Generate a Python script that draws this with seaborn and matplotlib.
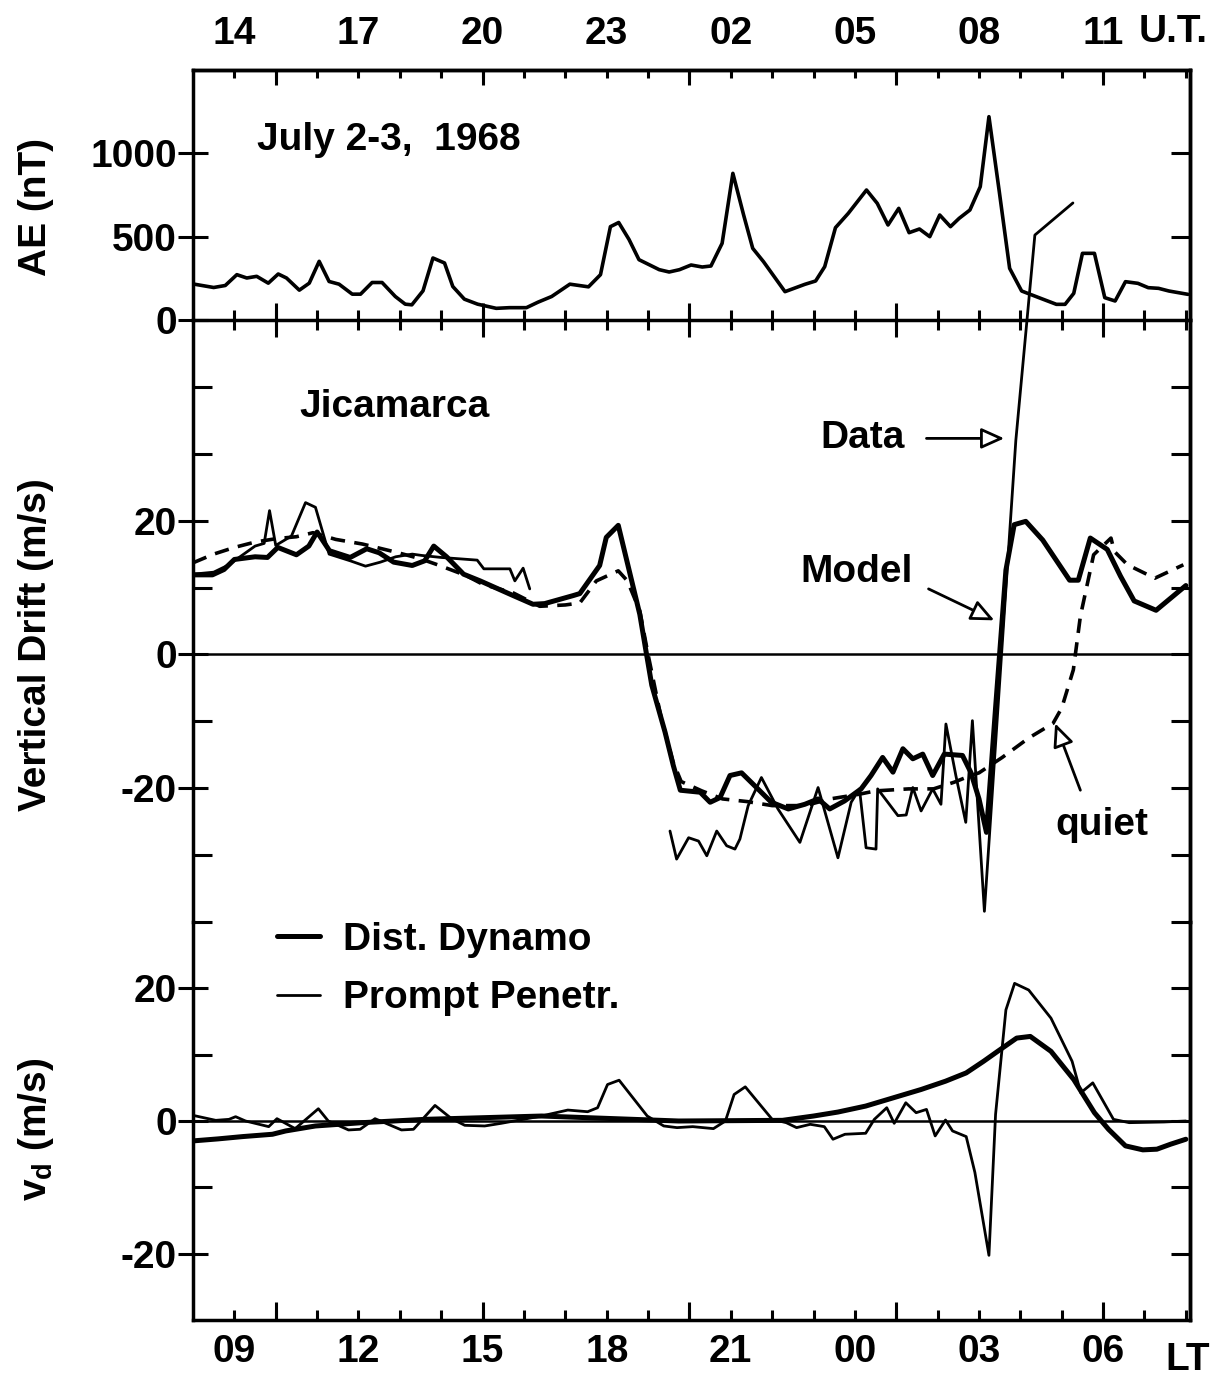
import matplotlib
matplotlib.use("Agg")
import matplotlib.pyplot as plt
import numpy as np
import pandas as pd
import seaborn as sns
from matplotlib.ticker import FixedLocator, FixedFormatter

# ---------------- data (LT in hours, 24 = 00 LT next day) ----------------
ae_lt = [8.03, 8.50, 8.78, 9.06, 9.30, 9.54, 9.82, 10.06, 10.26, 10.57, 10.81, 11.05, 11.29, 11.53,
         11.85, 12.05, 12.33, 12.57, 12.89, 13.13, 13.29, 13.56, 13.80, 14.08, 14.28, 14.56, 14.88,
         15.33, 15.65, 16.06, 16.34, 16.67, 17.11, 17.56, 17.85, 18.09, 18.29, 18.54, 18.78, 19.27,
         19.51, 19.76, 20.04, 20.31, 20.52, 20.79, 21.05, 21.31, 21.53, 21.79, 22.31, 22.79, 23.05,
         23.27, 23.53, 23.84, 24.28, 24.54, 24.80, 25.06, 25.31, 25.56, 25.81, 26.05, 26.31, 26.52,
         26.78, 27.03, 27.24, 27.49, 27.74, 28.03, 28.49, 28.87, 29.08, 29.29, 29.50, 29.79, 30.04,
         30.29, 30.54, 30.84, 31.09, 31.34, 31.59, 32.05]
ae_nt = [215, 195, 207, 272, 252, 262, 221, 276, 252, 179, 221, 352, 231, 215,
         155, 155, 225, 225, 141, 95, 91, 175, 372, 342, 201, 125, 95,
         70, 74, 74, 107, 141, 215, 199, 272, 560, 585, 483, 362, 302,
         288, 302, 330, 318, 324, 460, 880, 630, 430, 350, 170, 214, 234,
         320, 554, 640, 780, 700, 570, 670, 524, 546, 500, 630, 560, 610,
         660, 800, 1220, 770, 310, 174, 130, 94, 94, 160, 400, 400, 134,
         114, 230, 220, 194, 190, 174, 154]

model_lt = [8.0, 8.47, 8.75, 9.0, 9.5, 9.8, 10.05, 10.5, 10.8, 11.0, 11.3, 11.8, 12.2, 12.5, 12.85,
            13.3, 13.6, 13.82, 14.13, 14.54, 14.94, 15.74, 16.22, 16.5, 17.19, 17.35, 17.83, 17.99,
            18.28, 18.8, 18.95, 19.09, 19.41, 19.61, 19.78, 20.26, 20.5, 20.74, 20.98, 21.26, 21.54,
            21.98, 22.39, 22.79, 23.11, 23.39, 23.75, 24.15, 24.39, 24.67, 24.92, 25.16, 25.4, 25.64,
            25.88, 26.16, 26.6, 26.8, 27.0, 27.18, 27.4, 27.65, 27.85, 28.13, 28.54, 29.19, 29.4,
            29.69, 30.1, 30.42, 30.75, 31.28, 32.0]
model_ms = [11.9, 11.9, 12.7, 14.2, 14.6, 14.5, 16.0, 14.9, 16.2, 18.3, 15.5, 14.5, 15.8, 15.2, 13.8,
            13.3, 14.0, 16.2, 14.6, 12.0, 11.0, 8.8, 7.5, 7.6, 8.8, 9.1, 13.3, 17.5,
            19.3, 6.0, 0.5, -4.6, -11.6, -16.6, -20.3, -20.6, -22.1, -21.4, -18.1, -17.7, -19.4,
            -22.1, -23.1, -22.4, -21.6, -23.1, -21.9, -20.1, -18.1, -15.4, -17.6, -14.1, -15.6, -14.9,
            -18.1, -14.9, -15.1, -17.6, -21.6, -26.6, -8.0, 12.6, 19.4, 19.9, 17.1, 11.1, 11.1,
            17.4, 15.7, 11.7, 8.0, 6.6, 10.3]

data1_lt = [8.0, 8.5, 8.8, 9.0, 9.5, 9.72, 9.85, 10.0, 10.38, 10.72, 10.96, 11.29, 11.8, 12.17,
            12.53, 12.9, 13.3, 13.53, 14.0, 14.87, 15.03, 15.66, 15.78, 15.98, 16.14]
data1_ms = [12.0, 12.3, 13.2, 14.0, 16.2, 16.6, 21.5, 16.3, 17.7, 22.7, 22.0, 15.0, 14.0, 13.2,
            13.8, 14.6, 15.0, 14.8, 14.5, 14.1, 12.8, 12.8, 11.0, 12.9, 9.8]

data2_lt = [19.53, 19.69, 19.98, 20.22, 20.42, 20.66, 20.9, 21.1, 21.22, 21.42, 21.74, 22.14, 22.67,
            23.11, 23.59, 23.91, 24.11, 24.27, 24.51, 24.55, 25.04, 25.24, 25.4, 25.6, 25.88, 26.08,
            26.2, 26.44, 26.68, 26.84, 27.13, 27.89, 28.35, 29.27]
data2_ms = [-26.4, -30.6, -27.4, -27.9, -30.1, -26.4, -28.6, -29.1, -27.6, -22.6, -18.4, -23.1, -28.1,
            -19.9, -30.4, -22.1, -20.1, -28.9, -29.1, -20.1, -24.1, -24.0, -19.9, -23.4, -20.1, -22.4,
            -10.4, -18.1, -25.1, -9.9, -38.4, 32.0, 62.7, 67.5]

quiet_lt = [8.0, 8.5, 9.0, 9.5, 10.0, 10.5, 10.9, 11.45, 12.1, 12.9, 13.5, 13.96, 14.6, 15.0, 15.74,
            16.38, 17.0, 17.35, 17.75, 18.28, 18.5, 18.8, 19.0, 19.3, 19.6, 19.8, 20.3, 20.8, 21.4,
            22.0, 22.8, 23.4, 24.1, 24.5, 25.3, 25.9, 26.4, 26.8, 27.0, 27.56, 28.2, 28.79, 29.0,
            29.28, 29.45, 29.77, 30.19, 30.27, 30.59, 31.25, 31.94]
quiet_ms = [13.7, 15.0, 16.0, 16.8, 17.3, 17.6, 18.2, 17.2, 16.5, 15.3, 14.3, 13.3, 11.8, 10.5, 9.2,
            7.2, 7.4, 7.7, 11.0, 12.5, 11.0, 6.5, 0.0, -9.0, -16.0, -19.0, -20.4, -21.6, -22.0,
            -22.6, -22.6, -21.6, -20.9, -20.4, -20.1, -20.1, -19.1, -18.1, -17.7, -15.4, -12.5, -10.3, -8.0,
            -2.3, 5.7, 14.9, 17.4, 15.4, 13.4, 11.4, 13.4]

dd_lt = [8.0, 8.6, 9.2, 9.92, 10.24, 10.96, 12.09, 13.61, 16.43, 19.74, 22.25, 23.0, 23.59, 24.26,
         24.93, 25.6, 26.19, 26.69, 27.11, 27.45, 27.91, 28.24, 28.74, 29.29, 29.79, 30.13, 30.54,
         30.96, 31.3, 31.63, 32.0]
dd_ms = [-3.0, -2.7, -2.35, -2.0, -1.5, -0.75, -0.25, 0.25, 0.75, 0.0, 0.1, 0.75, 1.35, 2.25,
         3.5, 4.75, 6.0, 7.25, 9.0, 10.5, 12.5, 12.75, 10.5, 6.25, 1.25, -1.25, -3.75,
         -4.35, -4.25, -3.5, -2.75]

pp_lt = [8.0, 8.55, 8.87, 9.03, 9.27, 9.83, 10.03, 10.47, 11.03, 11.27, 11.76, 12.04, 12.4, 12.72,
         13.04, 13.33, 13.85, 14.25, 14.57, 15.05, 15.45, 16.42, 17.06, 17.54, 17.78, 18.02, 18.3,
         18.98, 19.38, 19.7, 20.08, 20.58, 20.87, 21.08, 21.35, 22.0, 22.34, 22.59, 22.92, 23.26,
         23.47, 23.76, 24.26, 24.47, 24.77, 24.95, 25.23, 25.48, 25.73, 25.94, 26.19, 26.36, 26.69,
         26.9, 27.24, 27.4, 27.65, 27.86, 28.2, 28.74, 29.25, 29.46, 29.75, 30.25, 30.63, 31.47, 32.0]
pp_ms = [0.85, 0.1, 0.25, 0.65, 0.0, -0.85, 0.35, -1.15, 1.85, 0.0, -1.35, -1.25, 0.35, -0.5,
         -1.35, -1.25, 2.35, 0.35, -0.65, -0.75, -0.35, 0.75, 1.65, 1.4, 2.0, 5.5, 6.15,
         0.75, -0.75, -1.0, -0.85, -1.15, 0.0, 4.0, 5.15, 0.25, -0.25, -1.0, -0.5, -0.85,
         -2.75, -2.0, -1.85, 0.25, 2.0, -0.35, 2.75, 1.25, 1.75, -2.25, 0.15, -1.5, -2.35,
         -7.75, -20.25, 1.0, 16.75, 20.75, 19.75, 15.5, 9.0, 4.25, 5.75, 0.25, -0.25, -0.15, 0.0]

label_hours = [9, 12, 15, 18, 21, 24, 27, 30]
ut_labels = ["14", "17", "20", "23", "02", "05", "08", "11"]
lt_labels = ["09", "12", "15", "18", "21", "00", "03", "06"]
ae_ticks, ae_ticklabels = [0, 500, 1000], ["0", "500", "1000"]
dr_ticks, dr_ticklabels = [-20, 0, 20], ["-20", "0", "20"]
dr_minor = [-40, -30, -10, 10, 30, 40]
vd_ticks, vd_ticklabels = [-20, 0, 20], ["-20", "0", "20"]
vd_minor = [-10, 10]

# ---------------- style ----------------
sns.set_theme(style="ticks")
plt.rcParams["font.family"] = ["Liberation Sans", "DejaVu Sans"]
plt.rcParams["font.weight"] = "bold"
plt.rcParams["axes.labelweight"] = "bold"
plt.rcParams["axes.unicode_minus"] = False
plt.rcParams["mathtext.fontset"] = "custom"
plt.rcParams["mathtext.rm"] = "Liberation Sans:bold"
plt.rcParams["mathtext.it"] = "Liberation Sans:bold"
plt.rcParams["mathtext.bf"] = "Liberation Sans:bold"
for k in ["text.color", "axes.labelcolor", "xtick.color", "ytick.color", "axes.edgecolor"]:
    plt.rcParams[k] = "black"
plt.rcParams["axes.linewidth"] = 2.5

FS = 28
TW = 2.2
XMIN, XMAX = 8.0, 32.1
hours = list(range(9, 33))
long_hours = [10, 15, 20, 25, 30]

fig = plt.figure(figsize=(12.29, 13.83), dpi=100, facecolor="white")
gs = fig.add_gridspec(3, 1, height_ratios=[250, 602, 398], hspace=0,
                      left=193 / 1229, right=1190 / 1229,
                      top=1 - 70 / 1383, bottom=1 - 1320 / 1383)
ax_ae = fig.add_subplot(gs[0])
ax_dr = fig.add_subplot(gs[1])
ax_vd = fig.add_subplot(gs[2])
for a in (ax_dr, ax_vd):
    a.patch.set_visible(False)

# ---------------- lines ----------------
sns.lineplot(x=ae_lt, y=ae_nt, ax=ax_ae, color="black", lw=2.6, estimator=None, sort=False)

ax_dr.axhline(0, color="black", lw=1.8, zorder=1)
sns.lineplot(x=quiet_lt, y=quiet_ms, ax=ax_dr, color="black", lw=2.6, linestyle=(0, (4, 2.6)),
             estimator=None, sort=False)
sns.lineplot(x=model_lt, y=model_ms, ax=ax_dr, color="black", lw=3.6, estimator=None, sort=False)
sns.lineplot(x=data1_lt, y=data1_ms, ax=ax_dr, color="black", lw=2.0, estimator=None, sort=False)
sns.lineplot(x=data2_lt, y=data2_ms, ax=ax_dr, color="black", lw=2.0, estimator=None, sort=False,
             clip_on=False)

ax_vd.axhline(0, color="black", lw=1.8, zorder=1)
sns.lineplot(x=dd_lt, y=dd_ms, ax=ax_vd, color="black", lw=3.6, estimator=None, sort=False,
             label="Dist. Dynamo")
sns.lineplot(x=pp_lt, y=pp_ms, ax=ax_vd, color="black", lw=2.0, estimator=None, sort=False,
             label="Prompt Penetr.")

# ---------------- limits ----------------
for a in (ax_ae, ax_dr, ax_vd):
    a.set_xlim(XMIN, XMAX)
    a.set_xlabel("")
ax_ae.set_ylim(0, 1500)
ax_dr.set_ylim(-40, 50)
ax_vd.set_ylim(-30, 30)

ax_dr.spines["top"].set_visible(False)
ax_dr.spines["bottom"].set_visible(False)
ax_vd.spines["top"].set_visible(False)


def hour_labels(lbls):
    d = dict(zip(label_hours, lbls))
    return [d.get(h, "") for h in hours]


def setup_x(axis):
    axis.set_major_locator(FixedLocator(hours))
    axis.set_minor_locator(FixedLocator(long_hours))
    axis.remove_overlapping_locs = False


# top UT axis
sec_top = ax_ae.secondary_xaxis("top")
setup_x(sec_top.xaxis)
sec_top.xaxis.set_major_formatter(FixedFormatter(hour_labels(ut_labels)))
sec_top.tick_params(axis="x", which="major", direction="in", length=6, width=TW,
                    labelsize=FS, pad=13)
sec_top.tick_params(axis="x", which="minor", direction="in", length=11, width=TW)

# AE bottom (in-out ticks, no labels)
setup_x(ax_ae.xaxis)
ax_ae.tick_params(axis="x", which="both", bottom=True, top=False, labelbottom=False,
                  direction="inout", width=TW)
ax_ae.tick_params(axis="x", which="major", length=14)
ax_ae.tick_params(axis="x", which="minor", length=24)

ax_dr.tick_params(axis="x", which="both", bottom=False, top=False, labelbottom=False)

# bottom LT axis
setup_x(ax_vd.xaxis)
ax_vd.xaxis.set_major_formatter(FixedFormatter(hour_labels(lt_labels)))
ax_vd.tick_params(axis="x", which="both", bottom=True, top=False, direction="in", width=TW)
ax_vd.tick_params(axis="x", which="major", length=7, labelsize=FS, pad=10)
ax_vd.tick_params(axis="x", which="minor", length=13)


def setup_y(a, major, labels, minor, right):
    a.yaxis.set_major_locator(FixedLocator(major))
    a.yaxis.set_major_formatter(FixedFormatter(labels))
    a.yaxis.set_minor_locator(FixedLocator(minor))
    a.tick_params(axis="y", which="major", left=True, right=False, direction="inout",
                  length=22, width=TW, labelsize=FS, pad=0.5)
    a.tick_params(axis="y", which="minor", left=True, right=False, direction="in",
                  length=14, width=TW)
    s = a.secondary_yaxis("right")
    s.yaxis.set_major_locator(FixedLocator(right))
    s.tick_params(axis="y", which="major", direction="in", length=14, width=TW,
                  labelright=False)
    return s


setup_y(ax_ae, ae_ticks, ae_ticklabels, [], [500, 1000])
setup_y(ax_dr, dr_ticks, dr_ticklabels, dr_minor, [-40, -30, -20, -10, 0, 10, 20, 30, 40])
setup_y(ax_vd, vd_ticks, vd_ticklabels, vd_minor, [-20, -10, 0, 10, 20])

# y labels
lab_x = (36 - 193) / 997
for a, txt, yy in [(ax_ae, "AE (nT)", 0.45), (ax_dr, "Vertical Drift (m/s)", 0.46),
                   (ax_vd, r"v$_{\mathrm{d}}$ (m/s)", 0.48)]:
    a.set_ylabel(txt, fontsize=FS, va="center", fontweight="bold")
    a.yaxis.set_label_coords(lab_x, yy)

# axis unit texts
ax_ae.annotate("U.T.", xy=(30.85, 1.112), xycoords=("data", "axes fraction"),
               ha="left", va="baseline", fontsize=FS, annotation_clip=False)
ax_vd.annotate("LT", xy=(31.5, -0.126), xycoords=("data", "axes fraction"),
               ha="left", va="baseline", fontsize=FS, annotation_clip=False)

# panel texts
ax_ae.text(9.55, 1080, "July 2-3,  1968", ha="left", va="center", fontsize=FS)
ax_dr.text(10.57, 37.0, "Jicamarca", ha="left", va="center", fontsize=FS)

arrow = dict(arrowstyle="-|>,head_length=1.0,head_width=0.45", lw=2.0, fc="white",
             ec="black", mutation_scale=14, shrinkA=0, shrinkB=0)
ax_dr.text(23.17, 32.3, "Data", ha="left", va="center", fontsize=FS)
ax_dr.annotate("", xy=(27.61, 32.3), xytext=(25.73, 32.3), arrowprops=arrow,
               annotation_clip=False)
ax_dr.text(22.69, 12.4, "Model", ha="left", va="center", fontsize=FS)
ax_dr.annotate("", xy=(27.37, 5.1), xytext=(25.78, 9.8), arrowprops=arrow)
ax_dr.text(28.84, -25.5, "quiet", ha="left", va="center", fontsize=FS)
ax_dr.annotate("", xy=(28.84, -10.3), xytext=(29.45, -20.3), arrowprops=arrow)

# legend
ax_vd.legend(loc="upper left", bbox_to_anchor=(0.084, 1.0), frameon=False, fontsize=FS,
             handlelength=1.1, handletextpad=0.6, labelspacing=0.57, borderaxespad=0,
             borderpad=0)

fig.savefig("out.png", dpi=100, facecolor="white")
